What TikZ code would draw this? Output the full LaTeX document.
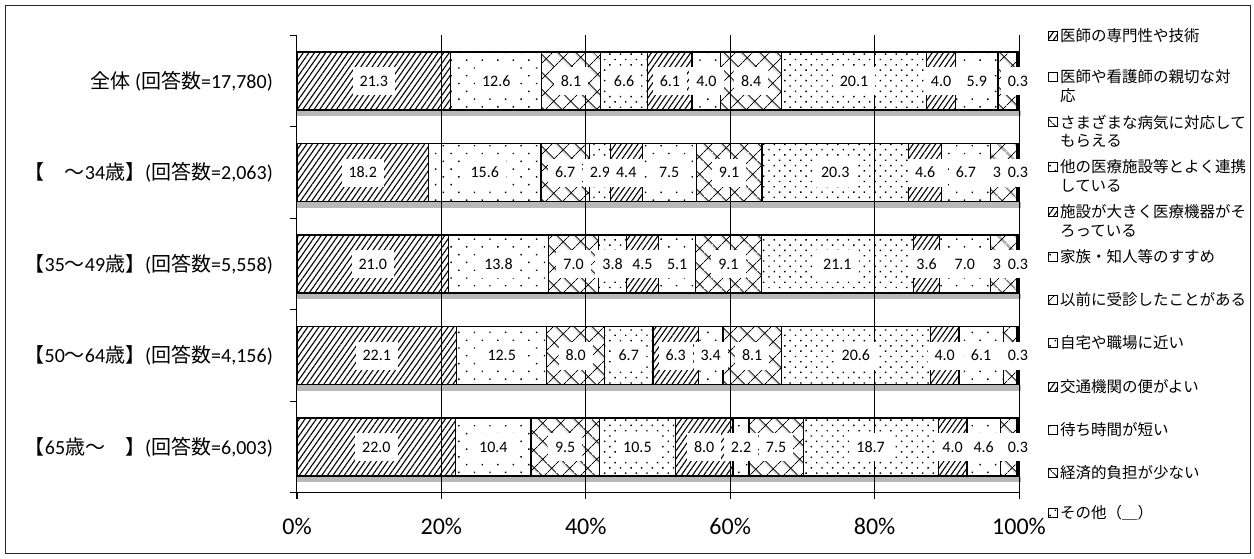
\documentclass[tikz,border=0pt]{standalone}
\usepackage{fontspec}
\setmainfont{Carlito}
\newfontfamily\cjk{Noto Sans CJK JP}
\usetikzlibrary{patterns.meta}
\tikzset{
  pat0/.style={pattern={Lines[angle=55,distance=4.6pt,line width=1.1pt]}},
  pat1/.style={pattern={Dots[angle=45,distance=11pt,radius=1pt]}},
  pat2/.style={pattern={Hatch[angle=45,distance=13pt,line width=0.9pt]}},
  pat3/.style={pattern={Dots[angle=45,distance=7.5pt,radius=1pt]}},
  seg/.style={draw=black,line width=1.2pt},
  val/.style={fill=white,font=\fontsize{16}{16}\selectfont,inner xsep=7pt,inner ysep=0pt,minimum height=28pt},
  cat/.style={anchor=east,font=\fontsize{20}{20}\selectfont,inner sep=0pt},
  axl/.style={font=\fontsize{24}{24}\selectfont,inner sep=0pt},
  leg/.style={anchor=west,font=\cjk\fontsize{15.5}{15.5}\selectfont,inner sep=0pt},
  legbox/.style={draw=black,line width=1pt},
  grid/.style={draw=black,line width=0.7pt},
  shadowband/.style={fill=black!28},
  frame/.style={draw=black!85,line width=1pt}
}
% #1 y centre, #2 name prefix, #3 values, #4 extra label for 11th segment
\newcommand\drawbar[4]{%
  \pgfmathsetmacro\ytop{#1-29}\pgfmathsetmacro\ybot{#1+29}%
  \gdef\acc{0}%
  \foreach \v [count=\i] in {#3} {%
    \pgfmathsetmacro\xa{297+7.22*\acc}%
    \pgfmathsetmacro\xb{297+7.22*(\acc+\v)}%
    \pgfmathtruncatemacro\k{mod(\i-1,4)}%
    \ifnum\i<12
      \edef\tmp{\noexpand\draw[seg,pat\k] (\xa,\ytop) rectangle (\xb,\ybot);}\tmp
    \else
      \draw[seg,fill=black] (\xa,\ytop) rectangle (\xb,\ybot);
    \fi
    \pgfmathsetmacro\newacc{\acc+\v}\global\let\acc\newacc
  }%
  \gdef\acc{0}%
  \foreach \v [count=\i] in {#3} {%
    \pgfmathsetmacro\xm{297+7.22*(\acc+\v/2)}%
    \ifnum\i=11
      \ifx\relax#4\relax\else\node[val] (#2v11) at (997,#1) {#4};\fi
    \else
      \node[val] (#2v\i) at (\xm,#1) {\v};
    \fi
    \pgfmathsetmacro\newacc{\acc+\v}\global\let\acc\newacc
  }%
}
\begin{document}
\begin{tikzpicture}[x=1pt,y=-1pt]
\useasboundingbox (0,0) rectangle (1254,558);
\draw[frame] (5,5) rectangle (1250,553);
% shadows under bars
\foreach \yc in {81,172.5,264,355.5,447} {
  \fill[shadowband] (297,\yc+29.5) rectangle (1021,\yc+35);
}
% grid and axes
\foreach \p in {20,40,60,80,100} {
  \draw[grid] (297+7.22*\p,35) -- (297+7.22*\p,499);
}
\draw[grid] (296,35) -- (296,499);
\draw[grid] (290,492.5) -- (1019,492.5);
\foreach \yy in {35,126.5,218,309.5,401} {
  \draw[grid] (290,\yy) -- (296,\yy);
}
\draw[grid] (297,492.5) -- (297,499);
% bars
\drawbar{81}{b1}{21.3,12.6,8.1,6.6,6.1,4.0,8.4,20.1,4.0,5.9,2.6,0.3}{}
\drawbar{172.5}{b2}{18.2,15.6,6.7,2.9,4.4,7.5,9.1,20.3,4.6,6.7,3.7,0.3}{3}
\drawbar{264}{b3}{21.0,13.8,7.0,3.8,4.5,5.1,9.1,21.1,3.6,7.0,3.7,0.3}{3}
\drawbar{355.5}{b4}{22.1,12.5,8.0,6.7,6.3,3.4,8.1,20.6,4.0,6.1,1.9,0.3}{}
\drawbar{447}{b5}{22.0,10.4,9.5,10.5,8.0,2.2,7.5,18.7,4.0,4.6,2.3,0.3}{}
% category labels
\node[cat] (c1) at (273,81) {{\cjk 全体} ({\cjk 回答数}=17,780)};
\node[cat] (c2) at (273,172.5) {{\cjk 【　～}34{\cjk 歳】}({\cjk 回答数}=2,063)};
\node[cat] (c3) at (273,264) {{\cjk 【}35{\cjk ～}49{\cjk 歳】}({\cjk 回答数}=5,558)};
\node[cat] (c4) at (273,355.5) {{\cjk 【}50{\cjk ～}64{\cjk 歳】}({\cjk 回答数}=4,156)};
\node[cat] (c5) at (273,447) {{\cjk 【}65{\cjk 歳～　】}({\cjk 回答数}=6,003)};
% axis labels
\foreach \p [count=\j] in {0,20,40,60,80,100} {
  \node[axl] (ax\j) at (297+7.22*\p,526) {\p\%};
}
% legend
\foreach \yy/\k/\t [count=\j] in {
  36/0/医師の専門性や技術,
  77/1/医師や看護師の親切な対,
  122/2/さまざまな病気に対応して,
  167/3/他の医療施設等とよく連携,
  212/0/施設が大きく医療機器がそ,
  257/1/家族・知人等のすすめ,
  300/2/以前に受診したことがある,
  343/3/自宅や職場に近い,
  387/0/交通機関の便がよい,
  430/1/待ち時間が短い,
  473/2/経済的負担が少ない,
  513/3/その他（＿）} {
  \edef\tmp{\noexpand\draw[legbox,pat\k] (1048,\yy-4.5) rectangle (1057,\yy+4.5);}\tmp
  \node[leg] (lg\j) at (1060,\yy) {\t};
}
\node[leg] (lg2b) at (1060,96) {応};
\node[leg] (lg3b) at (1060,141) {もらえる};
\node[leg] (lg4b) at (1060,186) {している};
\node[leg] (lg5b) at (1060,231) {ろっている};
\end{tikzpicture}
\end{document}
